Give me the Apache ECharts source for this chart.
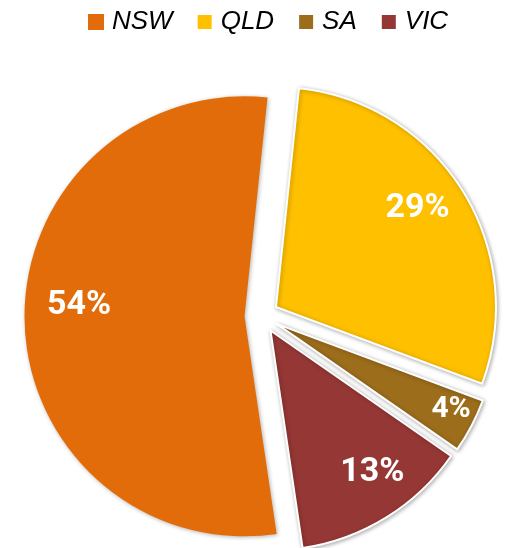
<!DOCTYPE html>
<html>
<head>
<meta charset="utf-8">
<script src="https://cdn.jsdelivr.net/npm/echarts@6/dist/echarts.min.js"></script>
<style>
  html, body { margin: 0; padding: 0; background: #ffffff; }
  #chart { width: 506px; height: 548px; }
</style>
</head>
<body>
<div id="chart"></div>
<script>
// Share of total by state (%)
const states = ['NSW', 'QLD', 'SA', 'VIC'];
const shares = [54, 29, 4, 13];

// Per-slice styling
const sliceColors = ['#E36C0A', '#FFC000', '#9C6D1B', '#953735'];
const sliceBorders = [0, 2, 2, 2];
// Label placement inside each slice: fraction of radius, angular nudge (deg, clockwise)
const labelRadiusRatio = [0.74, 0.77, 0.87, 0.78];
const labelAngleNudge = [5, -3, -1.5, -4];
const labelFontSizes = [34, 34, 30, 34];

const START_ANGLE = -81.6;   // degrees, ECharts convention (counter-clockwise from 3 o'clock)
const RADIUS = 220;
const EXPLODE = 17;
const total = shares.reduce((a, b) => a + b, 0);
const DEG = Math.PI / 180;

// Screen-space mid angle (radians) of slice i, slices running clockwise
function midAngle(i) {
  let before = 0;
  for (let k = 0; k < i; k++) before += shares[k];
  return (-START_ANGLE + (before + shares[i] / 2) / total * 360) * DEG;
}

const pieData = states.map((name, i) => ({
  name: name,
  value: shares[i],
  selected: true,
  itemStyle: {
    color: sliceColors[i],
    borderColor: '#ffffff',
    borderWidth: sliceBorders[i]
  },
  label: { fontSize: labelFontSizes[i] }
}));

const chart = echarts.init(document.getElementById('chart'), null, { renderer: 'canvas' });
chart.setOption({
  animation: false,
  backgroundColor: '#ffffff',
  legend: {
    data: states,
    left: 83,
    top: 4,
    icon: 'rect',
    itemWidth: 16,
    itemHeight: 16,
    itemGap: 23,
    selectedMode: false,
    textStyle: {
      fontFamily: 'Liberation Sans',
      fontStyle: 'italic',
      fontSize: 26,
      color: '#000000',
      padding: [0, 0, 0, 3]
    }
  },
  series: [{
    type: 'pie',
    center: [261.5, 316],
    radius: RADIUS,
    startAngle: START_ANGLE,
    clockwise: true,
    selectedMode: 'multiple',
    selectedOffset: EXPLODE,
    avoidLabelOverlap: false,
    silent: true,
    itemStyle: {
      shadowBlur: 4,
      shadowColor: 'rgba(0,0,0,0.3)',
      shadowOffsetX: 1,
      shadowOffsetY: 1
    },
    label: {
      show: true,
      position: 'inside',
      formatter: '{c}%',
      color: '#ffffff',
      fontWeight: 'bold',
      fontFamily: 'Roboto',
      fontSize: 34
    },
    labelLine: { show: false },
    labelLayout: function (params) {
      const i = params.dataIndex;
      const a = midAngle(i);
      const b = a + labelAngleNudge[i] * DEG;
      const rTarget = labelRadiusRatio[i] * RADIUS;
      const rDefault = 0.5 * RADIUS;
      return {
        dx: rTarget * Math.cos(b) - rDefault * Math.cos(a),
        dy: rTarget * Math.sin(b) - rDefault * Math.sin(a)
      };
    },
    data: pieData
  }]
});
</script>
</body>
</html>
